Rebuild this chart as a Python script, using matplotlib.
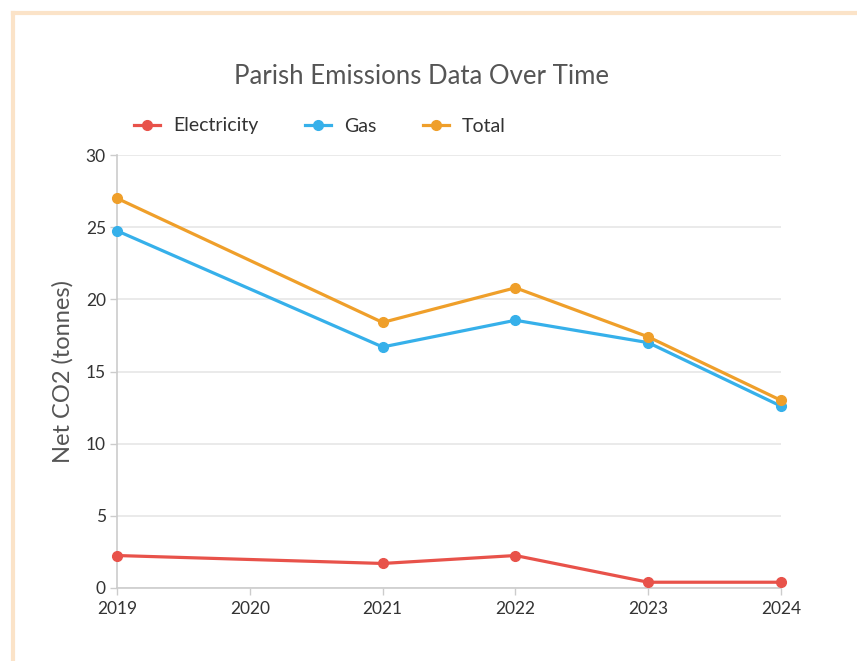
import matplotlib.pyplot as plt
from matplotlib.lines import Line2D

# Data
years = [2019, 2021, 2022, 2023, 2024]
electricity = [2.25, 1.7, 2.25, 0.4, 0.4]
gas = [24.75, 16.7, 18.55, 17.0, 12.6]
total = [27.0, 18.4, 20.8, 17.4, 13.0]
tick_years = [2019, 2020, 2021, 2022, 2023, 2024]

plt.rcParams['font.family'] = ['Lato', 'DejaVu Sans']

fig = plt.figure(figsize=(8.57, 6.61), dpi=100)
ax = fig.add_axes([117 / 857, 1 - 588 / 661, (781 - 117) / 857, (588 - 155) / 661])

# Series
series = [
    ("Electricity", electricity, "#e8524a"),
    ("Gas", gas, "#36b0ea"),
    ("Total", total, "#ef9f2a"),
]
for name, vals, col in series:
    ax.plot(years, vals, color=col, linewidth=2.3, marker='o', markersize=7,
            label=name, clip_on=False, zorder=3)

ax.set_xlim(2019, 2024)
ax.set_ylim(0, 30)
ax.set_xticks(tick_years)
ax.set_xticklabels([str(y) for y in tick_years])
ax.set_yticks(range(0, 31, 5))

ax.grid(axis='y', color='#e6e6e6', linewidth=1.2)
ax.set_axisbelow(True)
for side in ['top', 'right']:
    ax.spines[side].set_visible(False)
for side in ['left', 'bottom']:
    ax.spines[side].set_color('#cccccc')
    ax.spines[side].set_linewidth(1.2)
ax.tick_params(axis='both', colors='#cccccc', labelcolor='#333333',
               labelsize=12.5, length=5, width=1)
ax.tick_params(axis='x', pad=4)
ax.tick_params(axis='y', pad=3)

ax.set_ylabel("Net CO2 (tonnes)", fontsize=17, color='#555555', labelpad=9)

# Title
fig.text(422 / 857, 1 - 76 / 661, "Parish Emissions Data Over Time",
         ha='center', va='center', fontsize=18.5, color='#555555')

# Legend
fig.legend(loc='center left', bbox_to_anchor=(134 / 857, 1 - 126 / 661),
           ncol=3, frameon=False, fontsize=14, handlelength=1.35,
           handletextpad=0.65, columnspacing=2.4, labelcolor='#333333',
           borderpad=0, borderaxespad=0)

# Light orange frame (only top and left edges visible)
fig.add_artist(Line2D([13 / 857, 1.0], [1 - 13 / 661, 1 - 13 / 661],
                      transform=fig.transFigure, color='#fbe3c8', linewidth=3))
fig.add_artist(Line2D([13 / 857, 13 / 857], [0.0, 1 - 13 / 661],
                      transform=fig.transFigure, color='#fbe3c8', linewidth=3))

fig.savefig("out.png", dpi=100)
